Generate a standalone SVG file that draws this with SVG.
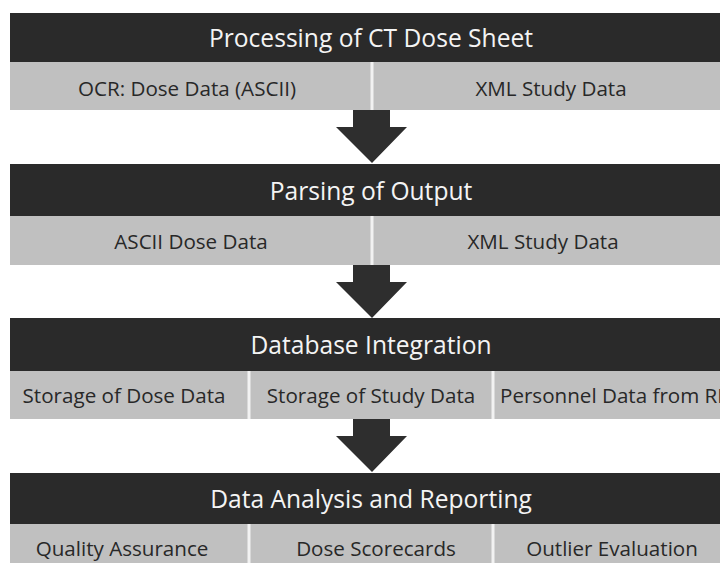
<svg xmlns="http://www.w3.org/2000/svg" width="720" height="563" viewBox="0 0 720 563">
  <style>
    .band { fill: #2a2a2a; }
    .cell { fill: #c0c0c0; }
    .sep { stroke: #f2f2f2; stroke-width: 3; }
    .title { font-family: "Open Sans", "Liberation Sans", sans-serif; font-size: 24.6px; fill: #f4f4f4; text-anchor: middle; }
    .item { font-family: "Open Sans", "Liberation Sans", sans-serif; font-size: 20.6px; fill: #282828; text-anchor: middle; }
    .arrow { fill: #2e2e2e; }
  </style>
  <defs>
    <!-- block arrow: stem 37 wide, head 72 wide, total height 53, tip at (0,0) -->
    <polygon id="downArrow" points="-19,-53 18,-53 18,-36 35,-36 0,0 -36,-36 -19,-36"/>
  </defs>
  <rect width="720" height="563" fill="#ffffff"/>

  <!-- Stage 1 -->
  <g id="stage-processing">
    <rect class="band" x="10" y="13" width="710" height="49"/>
    <text class="title" x="371" y="46.5">Processing of CT Dose Sheet</text>
    <rect class="cell" x="10" y="62" width="710" height="48"/>
    <line class="sep" x1="372" y1="62" x2="372" y2="110"/>
    <text class="item" x="187" y="95.5">OCR: Dose Data (ASCII)</text>
    <text class="item" x="551" y="95.5">XML Study Data</text>
  </g>

  <!-- Stage 2 -->
  <g id="stage-parsing">
    <rect class="band" x="10" y="164" width="710" height="52"/>
    <text class="title" x="371" y="199.5">Parsing of Output</text>
    <rect class="cell" x="10" y="216" width="710" height="49"/>
    <line class="sep" x1="372" y1="216" x2="372" y2="265"/>
    <text class="item" x="191" y="248.5">ASCII Dose Data</text>
    <text class="item" x="543" y="248.5">XML Study Data</text>
  </g>

  <!-- Stage 3 -->
  <g id="stage-database">
    <rect class="band" x="10" y="318" width="710" height="53"/>
    <text class="title" x="371" y="353.5">Database Integration</text>
    <rect class="cell" x="10" y="371" width="710" height="48"/>
    <line class="sep" x1="249" y1="371" x2="249" y2="419"/>
    <line class="sep" x1="493" y1="371" x2="493" y2="419"/>
    <text class="item" x="124" y="402.5">Storage of Dose Data</text>
    <text class="item" x="371" y="402.5">Storage of Study Data</text>
    <text class="item" x="500" y="402.5" style="text-anchor:start">Personnel Data from RIS</text>
  </g>

  <!-- Stage 4 -->
  <g id="stage-analysis">
    <rect class="band" x="10" y="473" width="710" height="51"/>
    <text class="title" x="371" y="507.5">Data Analysis and Reporting</text>
    <rect class="cell" x="10" y="524" width="710" height="39"/>
    <line class="sep" x1="249" y1="524" x2="249" y2="563"/>
    <line class="sep" x1="493" y1="524" x2="493" y2="563"/>
    <text class="item" x="122" y="556">Quality Assurance</text>
    <text class="item" x="376" y="556">Dose Scorecards</text>
    <text class="item" x="612" y="556">Outlier Evaluation</text>
  </g>

  <!-- Connectors between stages -->
  <g id="connectors" class="arrow">
    <use href="#downArrow" x="372" y="163"/>
    <use href="#downArrow" x="372" y="318"/>
    <use href="#downArrow" x="372" y="472"/>
  </g>
</svg>
